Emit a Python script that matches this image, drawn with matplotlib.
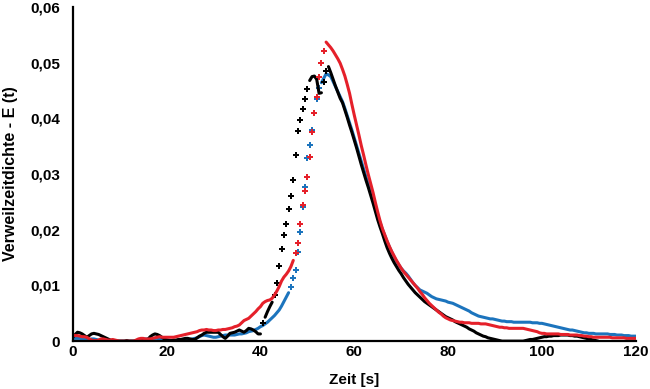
import numpy as np
import matplotlib
matplotlib.use("Agg")
import matplotlib.pyplot as plt
from matplotlib.ticker import FuncFormatter

dt = 0.5
black = [
    0.7, 1.2, 1.6, 1.5, 1.3, 1.0, 0.7, 1.0, 1.3, 1.4,
    1.3, 1.2, 1.0, 0.8, 0.6, 0.4, 0.2, 0.1, 0.0, 0.0,
    0.0, 0.0, 0.0, 0.1, 0.0, 0.0, 0.0, 0.1, 0.1, 0.0,
    0.1, 0.1, 0.3, 0.8, 1.1, 1.3, 1.2, 1.0, 0.7, 0.4,
    0.2, 0.1, 0.1, 0.2, 0.2, 0.3, 0.3, 0.4, 0.5, 0.5,
    0.4, 0.3, 0.3, 0.6, 0.9, 1.1, 1.4, 1.6, 1.6, 1.6,
    1.6, 1.6, 1.6, 1.2, 0.8, 0.5, 0.9, 1.4, 1.5, 1.6,
    1.8, 2.0, 1.8, 1.6, 1.9, 2.3, 2.2, 2.0, 1.7, 1.3,
    1.3, 3.2, 4.3, 5.3, 6.2, 7.0, 8.3, 10.5, 13.5, 16.5,
    19.0, 21.0, 23.8, 26.0, 29.0, 33.5, 37.8, 39.7, 41.6, 43.4,
    45.2, 46.8, 47.5, 47.6, 47.0, 44.5, 44.6, 46.5, 48.5, 49.3,
    48.2, 47.0, 45.8, 44.7, 43.6, 42.8, 41.5, 40.2, 38.8, 37.5,
    36.1, 34.7, 33.2, 31.7, 30.3, 28.9, 27.6, 26.2, 24.8, 23.3,
    21.8, 20.5, 19.3, 18.0, 16.8, 15.8, 14.9, 14.1, 13.4, 12.7,
    12.1, 11.4, 10.8, 10.2, 9.7, 9.2, 8.7, 8.3, 7.9, 7.5,
    7.1, 6.8, 6.5, 6.2, 5.9, 5.6, 5.3, 5.0, 4.7, 4.4,
    4.2, 4.0, 3.8, 3.5, 3.3, 3.1, 2.9, 2.7, 2.5, 2.2,
    2.0, 1.8, 1.5, 1.3, 1.1, 0.9, 0.8, 0.6, 0.5, 0.4,
    0.3, 0.2, 0.1, 0.0, 0.0, 0.0, 0.0, 0.0, 0.0, 0.0,
    0.0, 0.0, 0.0, 0.1, 0.2, 0.3, 0.3, 0.4, 0.5, 0.6,
    0.7, 0.8, 0.8, 0.9, 0.9, 1.0, 1.0, 1.0, 1.1, 1.1,
    1.1, 1.1, 1.0, 1.0, 0.9, 0.9, 0.8, 0.7, 0.6, 0.5,
    0.4, 0.3, 0.2, 0.1, 0.0,
]
blue = [
    0.5, 0.5, 0.5, 0.5, 0.4, 0.3, 0.2, 0.3, 0.4, 0.4,
    0.3, 0.2, 0.1, 0.1, 0.1, 0.0, 0.0, 0.0, 0.0, 0.0,
    0.0, 0.0, 0.0, 0.0, 0.0, 0.0, 0.0, 0.0, 0.0, 0.2,
    0.3, 0.4, 0.4, 0.5, 0.5, 0.5, 0.5, 0.4, 0.4, 0.4,
    0.3, 0.2, 0.1, 0.0, 0.1, 0.1, 0.2, 0.2, 0.2, 0.3,
    0.3, 0.4, 0.5, 0.6, 0.8, 1.0, 1.1, 1.0, 0.9, 0.8,
    0.7, 0.7, 0.8, 0.9, 1.0, 1.1, 1.1, 1.1, 1.1, 1.1,
    1.2, 1.3, 1.3, 1.4, 1.5, 1.7, 1.8, 1.9, 2.1, 2.3,
    2.6, 2.8, 3.1, 3.4, 3.8, 4.2, 4.6, 5.1, 5.6, 6.3,
    7.1, 7.9, 8.7, 9.8, 11.3, 12.7, 16.0, 19.6, 24.0, 27.7,
    32.8, 35.3, 38.0, 40.9, 43.4, 45.4, 46.4, 47.2, 48.0, 47.8,
    47.5, 46.6, 45.7, 44.8, 43.9, 43.0, 41.8, 40.5, 39.2, 37.9,
    36.5, 35.1, 33.7, 32.3, 30.9, 29.5, 28.1, 26.8, 25.4, 24.0,
    22.6, 21.3, 20.1, 19.0, 17.9, 16.9, 16.0, 15.1, 14.4, 13.7,
    13.1, 12.6, 12.2, 11.7, 11.1, 10.5, 10.0, 9.6, 9.2, 9.0,
    8.8, 8.6, 8.3, 8.0, 7.8, 7.6, 7.5, 7.4, 7.3, 7.2,
    7.0, 6.9, 6.8, 6.6, 6.4, 6.2, 6.0, 5.8, 5.6, 5.4,
    5.1, 4.9, 4.7, 4.5, 4.4, 4.3, 4.2, 4.1, 4.0, 4.0,
    3.9, 3.8, 3.7, 3.6, 3.6, 3.5, 3.5, 3.5, 3.4, 3.4,
    3.4, 3.4, 3.4, 3.4, 3.4, 3.4, 3.3, 3.3, 3.3, 3.2,
    3.2, 3.1, 3.0, 2.9, 2.8, 2.7, 2.6, 2.5, 2.4, 2.3,
    2.2, 2.1, 2.0, 2.0, 1.9, 1.8, 1.7, 1.6, 1.5, 1.5,
    1.4, 1.4, 1.4, 1.3, 1.3, 1.3, 1.3, 1.3, 1.3, 1.2,
    1.2, 1.2, 1.1, 1.1, 1.1, 1.0, 1.0, 1.0, 0.9, 0.9,
    0.9,
]
red = [
    1.1, 1.0, 1.0, 0.9, 0.8, 0.8, 0.7, 0.4, 0.2, 0.1,
    0.1, 0.2, 0.4, 0.4, 0.3, 0.2, 0.2, 0.3, 0.2, 0.1,
    0.0, 0.0, 0.0, 0.0, 0.0, 0.0, 0.0, 0.2, 0.4, 0.5,
    0.5, 0.4, 0.4, 0.4, 0.5, 0.6, 0.7, 0.8, 0.7, 0.7,
    0.7, 0.7, 0.7, 0.7, 0.8, 0.9, 1.0, 1.1, 1.2, 1.3,
    1.4, 1.5, 1.6, 1.7, 1.9, 2.0, 2.0, 2.1, 2.0, 2.0,
    1.9, 1.9, 2.0, 2.0, 2.1, 2.1, 2.2, 2.3, 2.4, 2.6,
    2.7, 2.9, 3.3, 3.7, 3.9, 4.1, 4.5, 4.9, 5.3, 5.8,
    6.2, 6.8, 7.1, 7.3, 7.4, 7.7, 8.3, 9.0, 9.8, 10.8,
    11.5, 12.0, 12.6, 13.4, 14.5, 15.8, 17.7, 21.0, 24.5, 27.0,
    29.5, 33.0, 37.5, 41.0, 43.8, 47.5, 50.0, 52.1, 53.7, 53.2,
    52.7, 52.1, 51.4, 50.7, 49.9, 48.8, 47.6, 46.1, 44.5, 42.5,
    40.6, 38.8, 37.0, 35.1, 33.4, 31.6, 29.9, 28.3, 26.7, 24.9,
    23.2, 21.6, 20.2, 19.1, 18.0, 17.0, 16.1, 15.3, 14.5, 13.8,
    13.1, 12.5, 12.0, 11.5, 11.0, 10.5, 10.0, 9.5, 8.9, 8.4,
    7.8, 7.3, 6.8, 6.4, 6.0, 5.6, 5.2, 4.9, 4.5, 4.2,
    4.0, 3.8, 3.7, 3.6, 3.5, 3.4, 3.4, 3.3, 3.3, 3.3,
    3.2, 3.2, 3.2, 3.2, 3.1, 3.1, 3.1, 3.0, 2.9, 2.8,
    2.7, 2.6, 2.5, 2.5, 2.4, 2.4, 2.3, 2.3, 2.3, 2.3,
    2.3, 2.3, 2.3, 2.2, 2.1, 2.0, 1.9, 1.8, 1.7, 1.5,
    1.4, 1.4, 1.3, 1.3, 1.3, 1.3, 1.3, 1.3, 1.2, 1.2,
    1.2, 1.2, 1.1, 1.1, 1.1, 1.1, 1.0, 1.0, 0.9, 0.9,
    0.8, 0.8, 0.7, 0.7, 0.7, 0.7, 0.7, 0.7, 0.7, 0.7,
    0.6, 0.6, 0.6, 0.6, 0.6, 0.6, 0.5, 0.5, 0.5, 0.5,
    0.5,
]

series = [(blue, "#1c74bd"), (black, "#000000"), (red, "#e5202a")]

plt.rcParams["font.family"] = ["Liberation Sans", "DejaVu Sans"]
plt.rcParams["font.weight"] = "bold"

fig = plt.figure(figsize=(6.5, 3.89), dpi=100)
ax = fig.add_axes([0.112, 0.123, 0.866, 0.859])

for vals, col in series:
    v = np.array(vals) / 1000.0
    t = np.arange(len(v)) * dt
    # steep rising parts look like separate dots in the original
    steep = np.gradient(v * 1000.0, t) > 2.5
    ax.plot(t, np.where(steep, np.nan, v), color=col, lw=2.2, solid_capstyle="round")
    ax.plot(t[steep], v[steep], ls="none", marker="P", ms=3.8, mew=0, color=col)

ax.set_xlim(0, 120)
ax.set_ylim(0, 0.06)
ax.set_xticks(np.arange(0, 121, 20))
ax.set_yticks(np.arange(0, 0.061, 0.01))
ax.yaxis.set_major_formatter(FuncFormatter(lambda y, p: "0" if abs(y) < 1e-9 else f"{y:.2f}".replace(".", ",")))
ax.tick_params(length=0, labelsize=11)
ax.tick_params(axis="y", pad=9)
ax.tick_params(axis="x", pad=3)
for s in ["top", "right"]:
    ax.spines[s].set_visible(False)
for s in ["left", "bottom"]:
    ax.spines[s].set_linewidth(1.6)

ax.set_xlabel("Zeit [s]", fontsize=11, fontweight="bold")
ax.set_ylabel("Verweilzeitdichte - E (t)", fontsize=11.5, fontweight="bold")
ax.xaxis.set_label_coords(0.5, -0.095)
ax.yaxis.set_label_coords(-0.097, 0.5)

fig.savefig("out.png", dpi=100)
